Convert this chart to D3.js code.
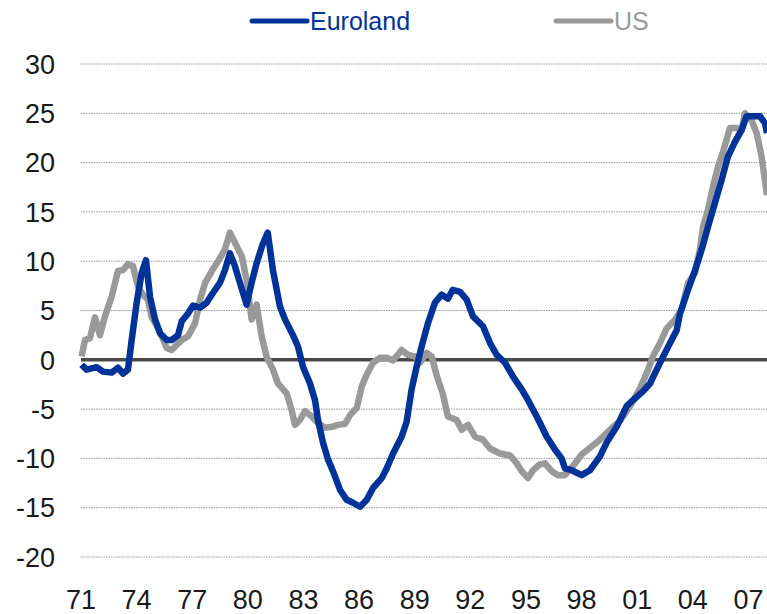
<!DOCTYPE html>
<html>
<head>
<meta charset="utf-8">
<script src="https://cdn.jsdelivr.net/npm/d3@7"></script>
<style>
  html, body { margin: 0; padding: 0; background: #fff; }
  svg { display: block; font-family: "Liberation Sans", Arial, sans-serif; }
</style>
</head>
<body>
<div id="chart"></div>
<script>
// year (decimal) and value
const euroYears = [1971.06, 1971.33, 1971.87, 1972.21, 1972.68, 1973.02, 1973.29, 1973.56, 1973.76, 1974.03,
  1974.30, 1974.53, 1974.75, 1975.02, 1975.29, 1975.65, 1975.92, 1976.26, 1976.46, 1976.80,
  1977.07, 1977.45, 1977.81, 1978.15, 1978.52, 1978.79, 1979.06, 1979.33, 1979.60, 1979.96,
  1980.23, 1980.50, 1980.84, 1981.10, 1981.38, 1981.76, 1982.03, 1982.46, 1982.73, 1983.00,
  1983.38, 1983.65, 1983.81, 1984.08, 1984.35, 1984.62, 1985.00, 1985.36, 1985.70, 1986.08,
  1986.44, 1986.78, 1987.25, 1987.52, 1987.86, 1988.32, 1988.59, 1988.86, 1989.13, 1989.40,
  1989.74, 1990.12, 1990.48, 1990.82, 1991.08, 1991.47, 1991.83, 1992.17, 1992.71, 1993.09,
  1993.45, 1993.90, 1994.33, 1994.80, 1995.14, 1995.61, 1996.15, 1996.59, 1996.95, 1997.13,
  1997.49, 1998.03, 1998.48, 1999.02, 1999.38, 1999.92, 2000.46, 2000.80, 2001.34, 2001.72,
  2002.08, 2002.42, 2002.80, 2003.16, 2003.34, 2003.77, 2004.15, 2004.51, 2004.85, 2005.22,
  2005.59, 2005.92, 2006.30, 2006.66, 2006.93, 2007.38, 2007.65, 2007.92, 2008.03];
const euroValues = [-0.5, -1.0, -0.75, -1.2, -1.3, -0.8, -1.4, -1.0, 2.0, 5.8,
  8.8, 10.1, 6.4, 4.1, 2.7, 2.0, 2.0, 2.5, 3.9, 4.7,
  5.5, 5.3, 5.8, 6.8, 7.8, 9.1, 10.8, 9.5, 7.8, 5.6,
  7.8, 9.8, 11.8, 12.9, 9.1, 5.4, 4.1, 2.5, 1.35, -0.7,
  -2.4, -4.1, -6.1, -8.4, -10.1, -11.3, -13.2, -14.2, -14.5, -14.9,
  -14.2, -13.0, -12.0, -11.0, -9.5, -7.8, -6.3, -3.0, -0.7, 1.35,
  3.7, 5.8, 6.6, 6.2, 7.1, 6.9, 6.1, 4.4, 3.4, 1.7,
  0.5, -0.3, -1.7, -3.0, -4.1, -5.75, -7.8, -9.1, -10.0, -11.0,
  -11.2, -11.7, -11.2, -9.8, -8.4, -6.8, -4.7, -4.1, -3.2, -2.4,
  -1.0, 0.3, 1.7, 3.0, 4.7, 7.1, 9.1, 11.2, 13.5, 15.9,
  18.3, 20.6, 22.1, 23.3, 24.7, 24.7, 24.7, 24.0, 23.0];

const usYears = [1971.06, 1971.24, 1971.51, 1971.78, 1972.05, 1972.32, 1972.68, 1973.02, 1973.29, 1973.56,
  1973.83, 1974.10, 1974.37, 1974.64, 1974.84, 1975.11, 1975.38, 1975.65, 1975.92, 1976.19,
  1976.46, 1976.80, 1977.18, 1977.45, 1977.72, 1978.08, 1978.42, 1978.79, 1979.06, 1979.43,
  1979.70, 1979.96, 1980.23, 1980.50, 1980.77, 1981.04, 1981.38, 1981.65, 1982.12, 1982.39,
  1982.57, 1982.84, 1983.11, 1983.47, 1983.81, 1984.19, 1984.55, 1984.89, 1985.27, 1985.54,
  1985.90, 1986.17, 1986.44, 1986.78, 1987.15, 1987.52, 1987.86, 1988.32, 1988.66, 1989.04,
  1989.31, 1989.67, 1989.94, 1990.23, 1990.55, 1990.82, 1991.29, 1991.56, 1991.90, 1992.28,
  1992.71, 1993.09, 1993.63, 1994.17, 1994.53, 1994.80, 1995.14, 1995.41, 1995.78, 1996.05,
  1996.42, 1996.76, 1997.13, 1997.56, 1998.03, 1998.57, 1999.02, 1999.56, 2000.10, 2000.64,
  2001.18, 2001.54, 2001.88, 2002.26, 2002.62, 2003.07, 2003.43, 2003.77, 2004.15, 2004.41,
  2004.58, 2004.85, 2005.12, 2005.39, 2005.66, 2006.03, 2006.39, 2006.66, 2006.84, 2007.20,
  2007.47, 2007.74, 2008.03];
const usValues = [0.35, 2.0, 2.2, 4.3, 2.5, 4.4, 6.4, 9.0, 9.1, 9.7,
  9.5, 7.4, 6.6, 6.1, 4.3, 3.5, 2.4, 1.2, 1.0, 1.5,
  2.0, 2.4, 3.7, 6.1, 7.8, 9.0, 10.0, 11.2, 12.9, 11.5,
  10.5, 8.1, 4.1, 5.6, 2.4, 0.3, -1.0, -2.4, -3.4, -5.1,
  -6.6, -6.1, -5.2, -5.75, -6.4, -6.9, -6.8, -6.6, -6.5, -5.6,
  -4.9, -2.7, -1.5, -0.3, 0.2, 0.2, -0.07, 1.0, 0.5, 0.35,
  -0.3, 0.7, 0.35, -1.7, -3.5, -5.75, -6.1, -7.1, -6.6, -7.8,
  -8.1, -9.0, -9.5, -9.7, -10.5, -11.3, -12.0, -11.2, -10.6, -10.5,
  -11.3, -11.7, -11.7, -10.8, -9.6, -8.8, -8.1, -7.1, -6.2, -4.7,
  -2.9, -1.35, 0.35, 1.7, 3.2, 4.06, 5.1, 7.8, 8.8, 11.2,
  13.5, 15.2, 17.6, 19.6, 21.1, 23.5, 23.5, 23.3, 25.0, 24.3,
  23.0, 20.6, 16.7];

const tickYears = [1971, 1974, 1977, 1980, 1983, 1986, 1989, 1992, 1995, 1998, 2001, 2004, 2007];
const yTicks = [30, 25, 20, 15, 10, 5, 0, -5, -10, -15, -20];
const seriesNames = ['Euroland', 'US'];
const seriesColors = ['#003399', '#999999'];

const width = 767, height = 614;
const plotLeft = 81, plotRight = 767;

const svg = d3.select('#chart').append('svg')
  .attr('width', width)
  .attr('height', height);

const x = d3.scaleLinear()
  .domain([1971, 2008.03])
  .range([80.5, 767]);

const y = d3.scaleLinear()
  .domain([-20, 30])
  .range([557, 64]);

// gridlines
svg.append('g')
  .selectAll('line')
  .data(yTicks.filter(d => d !== 0))
  .enter().append('line')
  .attr('x1', plotLeft)
  .attr('x2', plotRight)
  .attr('y1', d => y(d))
  .attr('y2', d => y(d))
  .attr('stroke', '#9a9a9a')
  .attr('stroke-width', 1)
  .attr('stroke-dasharray', '1.5,1');

// y labels
svg.append('g')
  .selectAll('text')
  .data(yTicks)
  .enter().append('text')
  .attr('x', 55)
  .attr('y', d => y(d))
  .attr('dy', '0.36em')
  .attr('text-anchor', 'end')
  .style('font-size', '27px')
  .attr('fill', '#1a1a1a')
  .text(d => d);

// x labels
const xAxis = d3.axisBottom(x)
  .tickValues(tickYears)
  .tickSize(0)
  .tickPadding(0)
  .tickFormat(d => String(d).slice(2));

svg.append('g')
  .attr('transform', 'translate(0,590)')
  .call(xAxis)
  .call(g => g.select('.domain').remove())
  .selectAll('text')
  .attr('dy', '0.72em')
  .style('font-size', '27px')
  .style('font-family', '"Liberation Sans", Arial, sans-serif')
  .attr('fill', '#1a1a1a');

// zero line
svg.append('line')
  .attr('x1', plotLeft)
  .attr('x2', plotRight)
  .attr('y1', y(0))
  .attr('y2', y(0))
  .attr('stroke', '#4d4848')
  .attr('stroke-width', 3.5);

const line = d3.line()
  .x(d => x(d[0]))
  .y(d => y(d[1]));

svg.append('defs').append('clipPath')
  .attr('id', 'clip')
  .append('rect')
  .attr('x', 78).attr('y', 0)
  .attr('width', plotRight - 78).attr('height', height);

const usData = d3.zip(usYears, usValues);
const euroData = d3.zip(euroYears, euroValues);

svg.append('path')
  .datum(usData)
  .attr('clip-path', 'url(#clip)')
  .attr('d', line)
  .attr('fill', 'none')
  .attr('stroke', seriesColors[1])
  .attr('stroke-width', 6.5)
  .attr('stroke-linejoin', 'round');

svg.append('path')
  .datum(euroData)
  .attr('clip-path', 'url(#clip)')
  .attr('d', line)
  .attr('fill', 'none')
  .attr('stroke', seriesColors[0])
  .attr('stroke-width', 6.5)
  .attr('stroke-linejoin', 'round');

// legend
const legendX = [252, 556];
const legend = svg.append('g')
  .selectAll('g')
  .data(seriesNames)
  .enter().append('g')
  .attr('transform', (d, i) => `translate(${legendX[i]},21)`);

legend.append('line')
  .attr('x1', 0)
  .attr('x2', 55)
  .attr('stroke', (d, i) => seriesColors[i])
  .attr('stroke-width', 5)
  .attr('stroke-linecap', 'round');

legend.append('text')
  .attr('x', 58)
  .attr('dy', '0.36em')
  .style('font-size', '25px')
  .attr('fill', (d, i) => seriesColors[i])
  .text(d => d);
</script>
</body>
</html>
